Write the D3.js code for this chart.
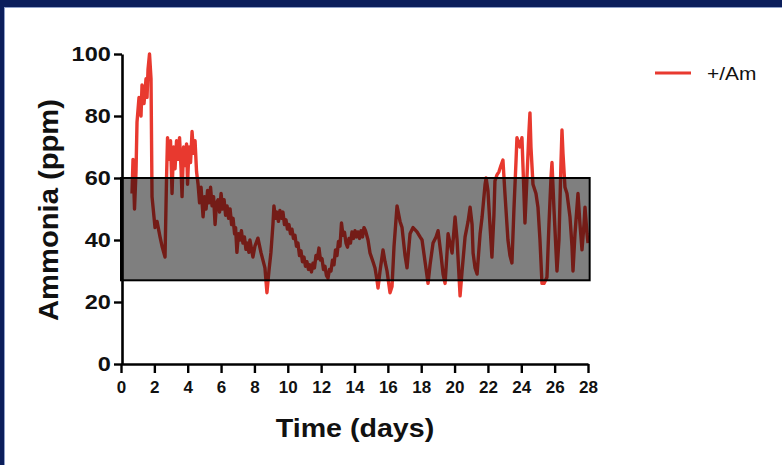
<!DOCTYPE html>
<html><head><meta charset="utf-8">
<script src="https://cdn.jsdelivr.net/npm/d3@7"></script>
<style>html,body{margin:0;padding:0;background:#fff;} svg{display:block;}</style>
</head><body>
<svg id="chart" width="782" height="465"></svg>
<script>
const days = [
0.66,0.72,0.81,0.90,0.96,1.08,1.20,1.26,1.38,1.50,
1.56,1.62,1.71,1.80,1.86,2.04,2.16,2.34,2.46,2.64,
2.73,2.79,2.88,2.97,3.06,3.15,3.24,3.33,3.42,3.51,
3.60,3.66,3.75,3.84,3.93,3.99,4.08,4.17,4.26,4.35,
4.44,4.53,
4.62,4.71,4.80,4.92,5.01,5.10,5.19,5.28,5.37,5.46,
5.55,5.64,5.73,5.82,5.91,6.00,6.09,6.18,6.27,6.36,
6.45,6.54,6.63,6.72,6.81,6.87,6.95,7.04,7.13,7.22,
7.31,7.40,7.49,7.58,7.67,7.73,
7.91,8.03,8.21,8.39,8.51,8.63,8.75,
8.87,8.99,9.11,
9.17,9.26,9.35,9.44,9.53,9.62,9.71,9.80,9.89,9.98,
10.07,10.16,10.25,10.34,10.43,10.52,10.61,10.70,10.79,10.88,
10.97,11.06,11.15,11.24,11.33,11.42,11.51,11.60,11.69,11.78,
11.87,11.96,12.05,12.14,12.23,12.32,12.41,12.50,12.59,12.68,
12.77,12.86,12.95,13.04,13.13,13.22,13.31,13.40,13.49,13.58,
13.67,13.76,13.85,13.94,14.03,14.12,14.21,14.30,14.39,14.48,
14.57,14.66,
14.81,14.93,15.11,15.23,15.35,
15.41,15.53,15.71,15.83,15.95,16.13,16.25,16.37,16.55,16.73,
16.85,17.03,17.15,17.33,17.51,17.75,17.93,18.05,18.23,18.41,
18.53,18.71,18.89,19.01,19.19,19.31,19.43,19.55,19.61,19.73,
19.85,20.03,20.15,20.27,20.33,20.45,20.63,20.81,20.93,21.05,
21.11,21.23,21.35,21.53,21.65,21.83,21.89,22.00,22.12,22.24,
22.36,22.42,22.54,22.66,22.78,22.90,23.02,23.20,23.32,23.44,
23.56,23.68,23.74,23.92,24.04,24.16,24.22,24.34,24.46,24.52,
24.58,24.70,24.88,25.00,25.12,25.24,25.36,25.54,25.66,25.78,
25.84,25.96,26.14,26.26,26.38,26.44,26.50,26.62,26.74,26.92,
27.04,27.10,27.22,27.40,27.52,27.64,27.76,27.82,27.94,28.00
];
const ammonia = [
55,66,50,62,78,86,80,90,84,92,
86,95,100,92,54,44,46,41,38,34.5,
60,73,66,72,55,70,63,72,66,73,
63,54,70,64,71,58,70,65,75,68,
72,62,
58,52,57,47.5,54,50,56,52,57,51,
54,45,52,53,49,55,50,53,48,51,
47,50,45,47,42,44,36,42,40,43,
39,41,37,39,36,40,
34.5,38,40.6,36,33.5,31,23,
30,36,45,
51,47,49,46,49.5,47,49,45,46.5,43.5,
45,42,43.5,40.5,41.5,38,39,35,36.5,33,
34.5,31.5,33,30.5,32,29.7,32.5,31,35,34,
37.4,33.5,34,30.5,31.5,28.5,27.7,30.5,30,33.5,
32,36.8,35,39.5,38,45.5,41.5,42.5,39,37.7,
40.5,39,42.6,40.5,43,41,42.6,40.5,43,41,
44,43,
40,35.8,33,31,27,
24.5,30,36.8,33,30,23,25,38,51,46,
44,35,31,42,44,42.6,41,40,33,26,
32,39,41,43,35,29,26,36,42,39,
35.8,47.4,40,28,22,30,41,46,50.6,45,
35.8,31,29,42,47.4,58,60,56,45,34.5,
48,59,61,62,64,65.8,55,40,35,32.6,
50,65,73,70,73,55,45.5,60,75,81,
70,58,55,50.6,40,26,26,28,45,60,
65,50,30,40,65,75.5,68,57,55,47.4,
38,30,42,55,45,36.8,45,50.6,42,39
];
const xTicks = [0,2,4,6,8,10,12,14,16,18,20,22,24,26,28];
const yTicks = [0,20,40,60,80,100];
const targetRange = [27, 60];
const targetDays = [0, 28.1];
const seriesName = "+/Am";
const xTitle = "Time (days)";
const yTitle = "Ammonia (ppm)";

const font = "'Liberation Sans', Arial, Helvetica, sans-serif";
const svg = d3.select("#chart");

// slide frame
svg.append("rect").attr("x",0).attr("y",0).attr("width",782).attr("height",7).attr("fill","#0b1e5b");
svg.append("rect").attr("x",0).attr("y",0).attr("width",4).attr("height",465).attr("fill","#0b1e5b");
svg.append("line").attr("x1",4).attr("x2",782).attr("y1",7.5).attr("y2",7.5).attr("stroke","#8fa0c8").attr("stroke-width",1);
svg.append("line").attr("x1",4.5).attr("x2",4.5).attr("y1",7).attr("y2",465).attr("stroke","#8fa0c8").attr("stroke-width",1);

const x = d3.scaleLinear().domain([0,28]).range([121,588]);
const y = d3.scaleLinear().domain([0,100]).range([364,54]);

const data = days.map((d,i)=>({d:d, v:ammonia[i]}));
const line = d3.line().x(p=>x(p.d)).y(p=>y(p.v));
svg.append("path").datum(data).attr("d", line)
  .attr("fill","none").attr("stroke","#e8392f").attr("stroke-width",3.4)
  .attr("stroke-linejoin","round");

svg.append("rect")
  .attr("x", x(targetDays[0])).attr("y", y(targetRange[1]))
  .attr("width", x(targetDays[1]) - x(targetDays[0]))
  .attr("height", y(targetRange[0]) - y(targetRange[1]))
  .attr("fill","#000").attr("fill-opacity",0.5)
  .attr("stroke","#000").attr("stroke-width",2);

// axes
const yAxis = svg.append("g").attr("transform","translate(122,0)")
  .call(d3.axisLeft(y).tickValues(yTicks).tickSize(8).tickSizeOuter(0).tickPadding(2));
const xAxis = svg.append("g").attr("transform","translate(0,364)")
  .call(d3.axisBottom(x).tickValues(xTicks).tickSize(9).tickSizeOuter(0).tickPadding(8));
[yAxis, xAxis].forEach(g=>{
  g.select(".domain").attr("stroke","#000").attr("stroke-width",2.6);
  g.selectAll(".tick line").attr("stroke","#000").attr("stroke-width",2.4);
});
yAxis.selectAll(".tick text").attr("font-family",font).attr("font-weight","bold")
  .attr("font-size",21).attr("fill","#111").attr("transform","scale(1.12,1)");
xAxis.selectAll(".tick text").attr("font-family",font).attr("font-weight","bold")
  .attr("font-size",17).attr("fill","#111");

// titles
svg.append("text").attr("transform","translate(355,437) scale(1.1,1)")
  .attr("text-anchor","middle").attr("font-family",font).attr("font-weight","bold")
  .attr("font-size",26).attr("fill","#111").text(xTitle);
svg.append("text").attr("transform","translate(58,210) rotate(-90) scale(1.08,1)")
  .attr("text-anchor","middle").attr("font-family",font).attr("font-weight","bold")
  .attr("font-size",27).attr("fill","#111").text(yTitle);

// legend
svg.append("line").attr("x1",655).attr("x2",691).attr("y1",73).attr("y2",73)
  .attr("stroke","#e8392f").attr("stroke-width",3);
svg.append("text").attr("transform","translate(707,80) scale(1.1,1)")
  .attr("font-family",font).attr("font-size",19).attr("fill","#111").text(seriesName);
</script>
</body></html>
